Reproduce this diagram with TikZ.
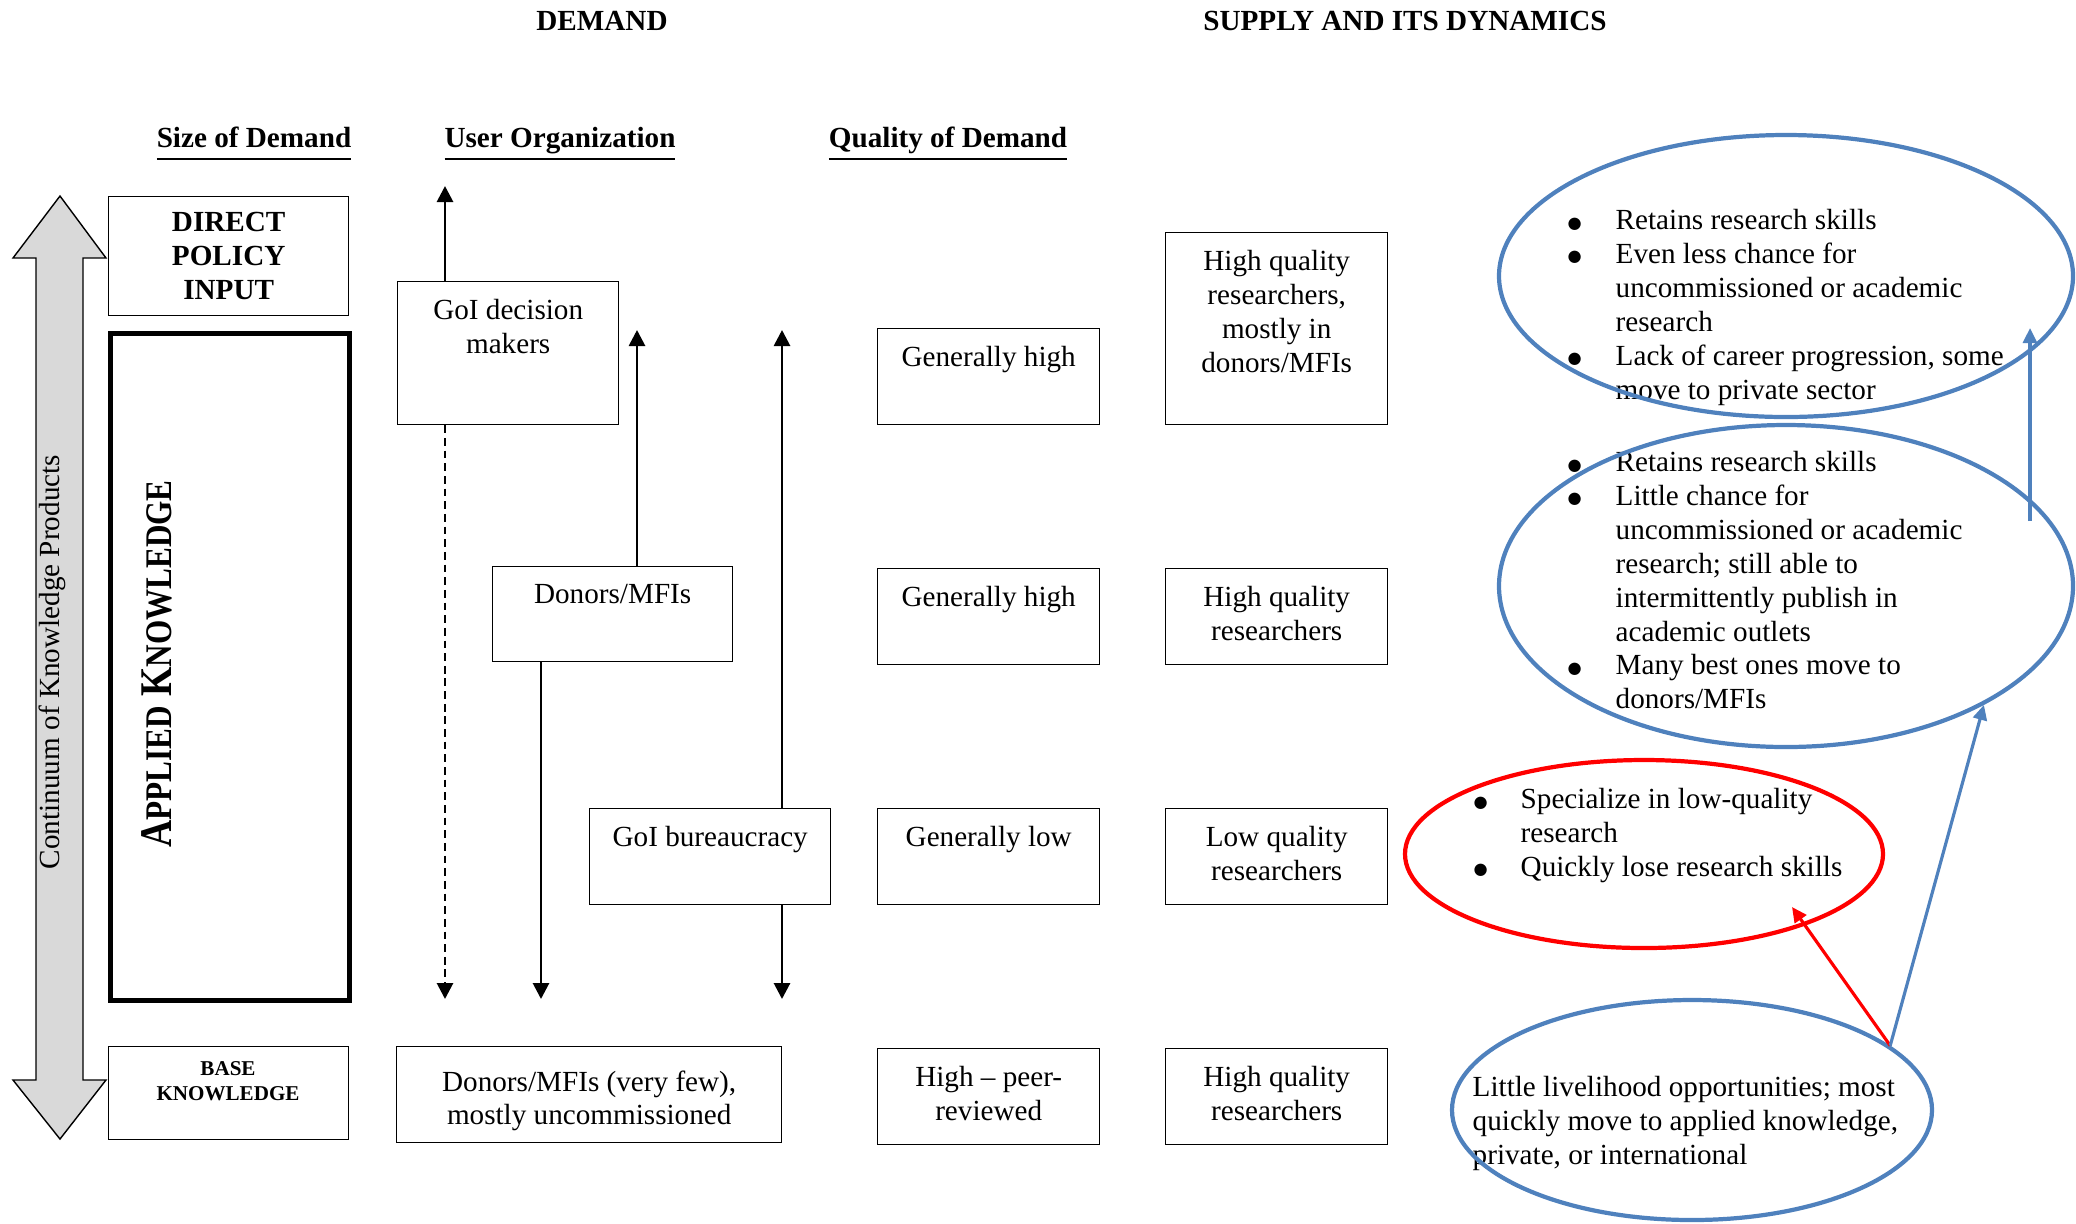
\documentclass[tikz,border=0pt]{standalone}
\usepackage{fontspec}
\setmainfont{Liberation Serif}
\newfontfamily\symfont{DejaVu Sans}
\usetikzlibrary{arrows.meta,shapes.geometric}

\newcommand{\normtxt}{\fontsize{8.3}{9.65}\selectfont}
\newcommand{\bigbul}{\raisebox{0.4pt}{\fontsize{4.6}{5}\symfont ●}}
\definecolor{ellblue}{RGB}{79,129,189}
\definecolor{shaftgray}{RGB}{217,217,217}

\tikzset{
	cell/.style={draw, line width=0.4pt, inner sep=0pt, anchor=north west},
	toptxt/.style={anchor=north, align=center, inner sep=0pt, yshift=-1.8mm, font=\normtxt},
	head/.style={font=\normtxt\bfseries, inner sep=0pt},
	arr/.style={line width=0.8pt, -{Triangle[length=1.6mm,width=1.6mm]}},
	barr/.style={draw=ellblue, line width=0.9pt, -{Triangle[length=1.5mm,width=1.4mm]}},
	ell/.style={ellipse, draw=ellblue, line width=1.2pt, inner sep=0pt},
	bul/.style={anchor=north west, inner sep=0pt, font=\normtxt}
}

\begin{document}
\begin{tikzpicture}[x=1cm,y=-1cm]
	\useasboundingbox (0,0) rectangle (20.76,12.23);

	\node[head] (dem) at (6.02,0.21) {DEMAND};
	\node[head] (sup) at (14.05,0.21) {SUPPLY AND ITS DYNAMICS};
	\node[head, anchor=base] (sod) at (2.54,1.475) {\underline{\vphantom{g}Size of Demand}};
	\node[head, anchor=base] (uo) at (5.60,1.475) {\underline{\vphantom{g}User Organization}};
	\node[head, anchor=base] (qod) at (9.48,1.475) {\underline{\vphantom{g}Quality of Demand}};

	\draw[fill=shaftgray] (0.60,1.96) -- (1.06,2.58) -- (0.83,2.58) -- (0.83,10.80) -- (1.06,10.80) -- (0.60,11.39) -- (0.13,10.80) -- (0.36,10.80) -- (0.36,2.58) -- (0.13,2.58) -- cycle;
	\node[font=\normtxt, rotate=90] (cont) at (0.52,6.62) {Continuum of Knowledge Products};

	\node[cell, minimum width=2.40cm, minimum height=1.19cm, align=center, font=\normtxt\bfseries] (dpi) at (1.08,1.96) {DIRECT\\POLICY\\INPUT};
	\node[cell, line width=1.3pt, minimum width=2.39cm, minimum height=6.67cm] (apk) at (1.08,3.31) {};
	\node[rotate=90] (apk-t) at (1.57,6.64) {\scalebox{0.83}[1]{\fontsize{12.9}{14}\selectfont\bfseries A{\fontsize{10.7}{12}\selectfont PPLIED} K{\fontsize{10.7}{12}\selectfont NOWLEDGE}}};
	\node[cell, minimum width=2.40cm, minimum height=0.93cm] (bk) at (1.08,10.46) {};
	\node[align=center, inner sep=0pt, font=\fontsize{6}{7.2}\selectfont\bfseries] (bk-t) at (2.28,10.81) {BASE\\KNOWLEDGE};

	\node[cell, minimum width=2.21cm, minimum height=1.43cm] (gdm) at (3.97,2.81) {};
	\node[toptxt] (gdm-t) at (gdm.north) {GoI decision\\makers};
	\node[cell, minimum width=2.40cm, minimum height=0.95cm] (don) at (4.92,5.66) {};
	\node[toptxt] (don-t) at (don.north) {Donors/MFIs};
	\node[cell, minimum width=2.41cm, minimum height=0.96cm] (bur) at (5.89,8.08) {};
	\node[toptxt] (bur-t) at (bur.north) {GoI bureaucracy};
	\node[cell, minimum width=3.85cm, minimum height=0.96cm] (dvf) at (3.96,10.46) {};
	\node[align=center, inner sep=0pt, font=\fontsize{8.3}{9.2}\selectfont] (dvf-t) at ([yshift=-0.6mm]dvf.center) {Donors/MFIs (very few),\\mostly uncommissioned};

	\coordinate (gdm-up) at (4.45,1.86);
	\draw[arr] (gdm.north -| gdm-up) -- (gdm-up);
	\coordinate (gdm-dn) at (4.45,9.99);
	\draw[arr, dash pattern=on 2.2pt off 1.4pt] (gdm.south -| gdm-dn) -- (gdm-dn);
	\coordinate (don-up) at (6.37,3.30);
	\draw[arr] (don.north -| don-up) -- (don-up);
	\coordinate (don-dn) at (5.41,9.99);
	\draw[arr] (don.south -| don-dn) -- (don-dn);
	\coordinate (bur-up) at (7.82,3.30);
	\draw[arr] (bur.north -| bur-up) -- (bur-up);
	\coordinate (bur-dn) at (7.82,9.99);
	\draw[arr] (bur.south -| bur-dn) -- (bur-dn);

	\node[cell, minimum width=2.22cm, minimum height=0.96cm] (q1) at (8.77,3.28) {};
	\node[toptxt] (q1-t) at (q1.north) {Generally high};
	\node[cell, minimum width=2.22cm, minimum height=0.96cm] (q2) at (8.77,5.68) {};
	\node[toptxt] (q2-t) at (q2.north) {Generally high};
	\node[cell, minimum width=2.22cm, minimum height=0.96cm] (q3) at (8.77,8.08) {};
	\node[toptxt] (q3-t) at (q3.north) {Generally low};
	\node[cell, minimum width=2.22cm, minimum height=0.96cm] (q4) at (8.77,10.48) {};
	\node[toptxt] (q4-t) at (q4.north) {High -- peer-\\reviewed};

	\node[cell, minimum width=2.22cm, minimum height=1.92cm] (s1) at (11.65,2.32) {};
	\node[toptxt] (s1-t) at (s1.north) {High quality\\researchers,\\mostly in\\donors/MFIs};
	\node[cell, minimum width=2.22cm, minimum height=0.96cm] (s2) at (11.65,5.68) {};
	\node[toptxt] (s2-t) at (s2.north) {High quality\\researchers};
	\node[cell, minimum width=2.22cm, minimum height=0.96cm] (s3) at (11.65,8.08) {};
	\node[toptxt] (s3-t) at (s3.north) {Low quality\\researchers};
	\node[cell, minimum width=2.22cm, minimum height=0.96cm] (s4) at (11.65,10.48) {};
	\node[toptxt] (s4-t) at (s4.north) {High quality\\researchers};

	\node[bul] (e1-t) at (15.67,2.05) {\begin{tabular}{@{}p{0.48cm}@{}l@{}}
		\bigbul & Retains research skills\\
		\bigbul & Even less chance for\\
		& uncommissioned or academic\\
		& research\\
		\bigbul & Lack of career progression, some\\
		& move to private sector
	\end{tabular}};
	\node[bul] (e2-t) at (15.67,4.47) {\begin{tabular}{@{}p{0.48cm}@{}l@{}}
		\bigbul & Retains research skills\\
		\bigbul & Little chance for\\
		& uncommissioned or academic\\
		& research; still able to\\
		& intermittently publish in\\
		& academic outlets\\
		\bigbul & Many best ones move to\\
		& donors/MFIs
	\end{tabular}};
	\node[bul] (er-t) at (14.73,7.84) {\begin{tabular}{@{}p{0.47cm}@{}l@{}}
		\bigbul & Specialize in low-quality\\
		& research\\
		\bigbul & Quickly lose research skills
	\end{tabular}};
	\node[bul] (eb-t) at (14.72,10.72) {\begin{tabular}{@{}l@{}}
		Little livelihood opportunities; most\\
		quickly move to applied knowledge,\\
		private, or international
	\end{tabular}};

	\node[ell, minimum width=5.74cm, minimum height=2.82cm] (e1) at (17.86,2.76) {};
	\node[ell, minimum width=5.74cm, minimum height=3.22cm] (e2) at (17.86,5.86) {};
	\node[ell, draw=red, minimum width=4.78cm, minimum height=1.88cm] (er) at (16.44,8.54) {};
	\node[ell, minimum width=4.80cm, minimum height=2.20cm] (eb) at (16.92,11.10) {};

	\coordinate (e2-out) at (20.30,5.21);
	\coordinate (e1-in) at (20.30,3.28);
	\draw[barr] (e2-out) -- (e1-in);
	\coordinate (er-in) at (17.92,9.07);
	\draw[barr, draw=red] (eb.18) -- (er-in);
	\draw[barr] (eb.18) -- (e2.-31);
\end{tikzpicture}
\end{document}
